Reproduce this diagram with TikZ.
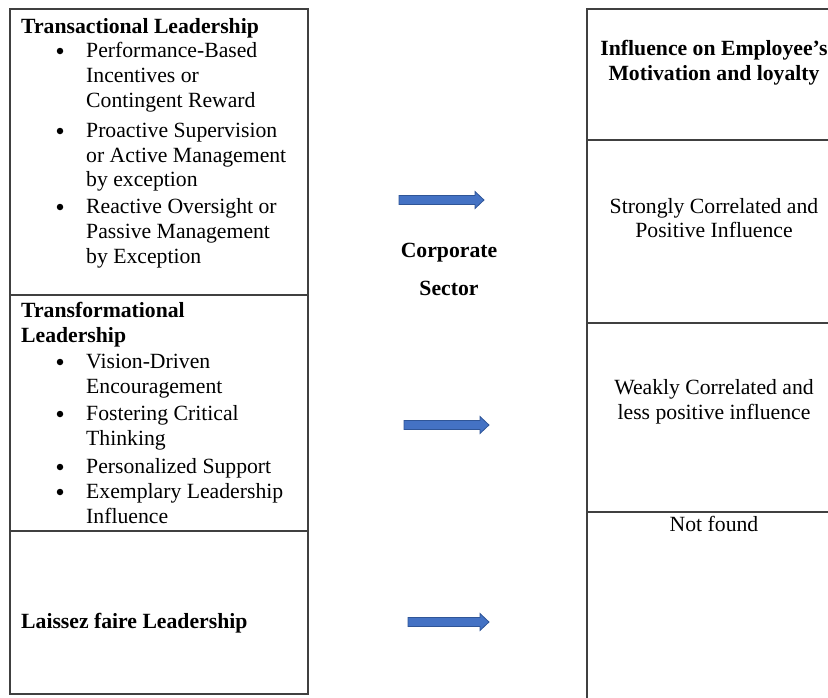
\documentclass[tikz,border=0pt]{standalone}
\usepackage{fontspec}
\setmainfont{Liberation Serif}
\definecolor{rule}{HTML}{404040}
\definecolor{arrowfill}{HTML}{4472C4}
\definecolor{arrowedge}{HTML}{2F5597}
\begin{document}
\begin{tikzpicture}[x=1pt,y=-1pt,
  txt/.style={inner sep=0pt, anchor=base west, font=\fontsize{21.7}{25}\selectfont},
  head/.style={inner sep=0pt, anchor=base west, font=\fontsize{21.7}{25}\selectfont\bfseries},
  ctxt/.style={inner sep=0pt, anchor=base, font=\fontsize{21.7}{25}\selectfont},
  chead/.style={inner sep=0pt, anchor=base, font=\fontsize{21.7}{25}\selectfont\bfseries},
  cell/.style={draw=rule, line width=1.3pt},
  dot/.style={circle, fill=black, inner sep=0pt, minimum size=6.5pt},
  blockstyle/.style={fill=arrowfill, draw=arrowedge, line width=0.8pt, line join=miter},
  pics/blockarrow/.style={code={
    \filldraw[blockstyle] (0,-4.5) -- (#1-9,-4.5) -- (#1-9,-8.5) -- (#1,0)
      -- (#1-9,8.5) -- (#1-9,4.5) -- (0,4.5) -- cycle;}}]
\useasboundingbox (0,0) rectangle (828,697);
\clip (0,0) rectangle (828,697);

% left column: three leadership styles
\draw[cell] (10,9) rectangle (308,694);
\draw[cell] (10,295) -- (308,295);
\draw[cell] (10,531) -- (308,531);

% right column: influence on employees
\draw[cell] (587,9) rectangle (845,720);
\draw[cell] (587,140) -- (845,140);
\draw[cell] (587,323) -- (845,323);
\draw[cell] (587,512) -- (845,512);

% transactional leadership
\node[head] (trTitle) at (21,33) {Transactional Leadership};
\node[dot] (trB1) at (60,51) {};
\node[txt] (trL1) at (86,57) {Performance-Based};
\node[txt] (trL2) at (86,82) {Incentives or};
\node[txt] (trL3) at (86,107) {Contingent Reward};
\node[dot] (trB2) at (60,131) {};
\node[txt] (trL4) at (86,137) {Proactive Supervision};
\node[txt] (trL5) at (86,162) {or Active Management};
\node[txt] (trL6) at (86,186) {by exception};
\node[dot] (trB3) at (60,207) {};
\node[txt] (trL7) at (86,213) {Reactive Oversight or};
\node[txt] (trL8) at (86,238) {Passive Management};
\node[txt] (trL9) at (86,263) {by Exception};

% transformational leadership
\node[head] (tfTitleA) at (21,317) {Transformational};
\node[head] (tfTitleB) at (21,342) {Leadership};
\node[dot] (tfB1) at (60,362) {};
\node[txt] (tfL1) at (86,368) {Vision-Driven};
\node[txt] (tfL2) at (86,393) {Encouragement};
\node[dot] (tfB2) at (60,414) {};
\node[txt] (tfL3) at (86,420) {Fostering Critical};
\node[txt] (tfL4) at (86,445) {Thinking};
\node[dot] (tfB3) at (60,467) {};
\node[txt] (tfL5) at (86,473) {Personalized Support};
\node[dot] (tfB4) at (60,492) {};
\node[txt] (tfL6) at (86,498) {Exemplary Leadership};
\node[txt] (tfL7) at (86,523) {Influence};

% laissez faire leadership
\node[head] (lfTitle) at (21,628) {Laissez faire Leadership};

% middle label
\node[chead] (corpA) at (449,257) {Corporate};
\node[chead] (corpB) at (449,295) {Sector};

% right column texts
\node[chead] (inA) at (714,55) {Influence on Employee’s};
\node[chead] (inB) at (714,80) {Motivation and loyalty};
\node[ctxt] (stA) at (714,213) {Strongly Correlated and};
\node[ctxt] (stB) at (714,237) {Positive Influence};
\node[ctxt] (wkA) at (714,394) {Weakly Correlated and};
\node[ctxt] (wkB) at (714,419) {less positive influence};
\node[ctxt] (nf) at (714,531) {Not found};

% block arrows
\pic at (399,200) {blockarrow=85};
\pic at (404,425) {blockarrow=85};
\pic at (408,622) {blockarrow=81};
\end{tikzpicture}
\end{document}
